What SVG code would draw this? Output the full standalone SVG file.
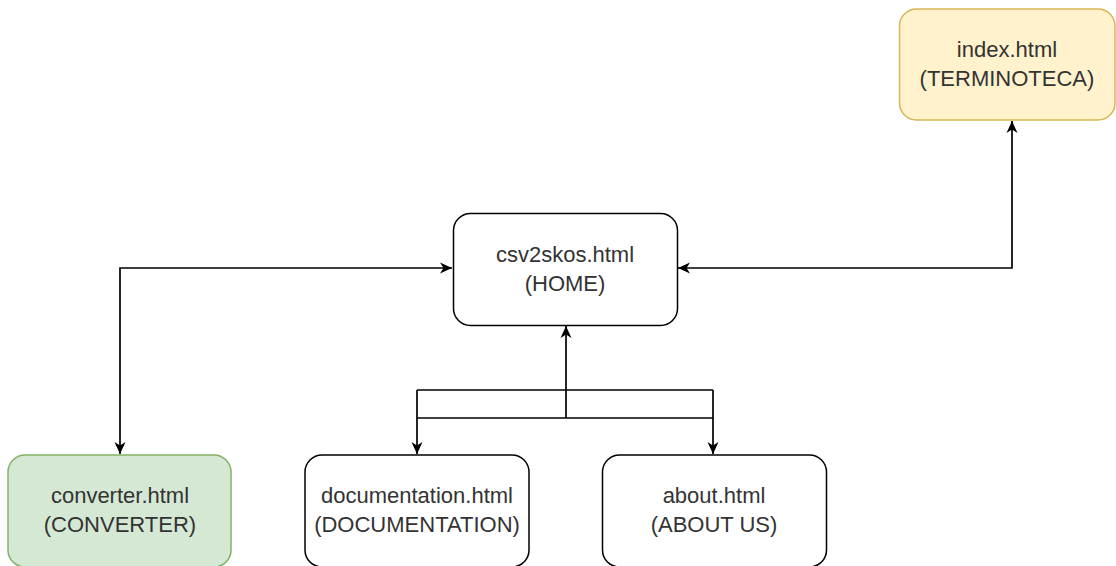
<svg xmlns="http://www.w3.org/2000/svg" width="1116" height="566" viewBox="0 0 1116 566">
  <style>
    .box { fill: #ffffff; stroke: #000000; stroke-width: 1.5; }
    .green { fill: #d5e8d4; stroke: #82b366; }
    .yellow { fill: #fff2cc; stroke: #d6b656; }
    .label { font-family: "Liberation Sans", Arial, sans-serif; font-size: 22px; fill: #333333; text-anchor: middle; }
    .edge { fill: none; stroke: #000000; stroke-width: 1.7; }
  </style>
  <defs>
    <marker id="arrow" viewBox="0 0 12 12" refX="12" refY="6" markerWidth="12" markerHeight="12" markerUnits="userSpaceOnUse" orient="auto-start-reverse">
      <path d="M0,0.5 L12,6 L0,11.5 L3.5,6 Z" fill="#000000"/>
    </marker>
  </defs>
  <rect width="1116" height="566" fill="#ffffff"/>

  <g id="connectors">
    <!-- converter <-> home -->
    <path class="edge" d="M120,454 L120,268 L452,268" marker-start="url(#arrow)" marker-end="url(#arrow)"/>
    <!-- home <-> index -->
    <path class="edge" d="M678,268 L1012,268 L1012,121" marker-start="url(#arrow)" marker-end="url(#arrow)"/>
    <!-- documentation / about -> home -->
    <path class="edge" d="M566,418 L566,326" marker-end="url(#arrow)"/>
    <path class="edge" d="M417,390 L713,390"/>
    <path class="edge" d="M417,418 L713,418"/>
    <path class="edge" d="M417,390 L417,454" marker-end="url(#arrow)"/>
    <path class="edge" d="M713,390 L713,454" marker-end="url(#arrow)"/>
  </g>

  <g id="index">
    <rect class="box yellow" x="899.5" y="9" width="215.5" height="111" rx="17"/>
    <text class="label" x="1007" y="57">index.html</text>
    <text class="label" x="1007" y="86">(TERMINOTECA)</text>
  </g>

  <g id="home">
    <rect class="box" x="453.5" y="213.5" width="224" height="112" rx="17"/>
    <text class="label" x="565" y="262">csv2skos.html</text>
    <text class="label" x="565" y="291">(HOME)</text>
  </g>

  <g id="converter">
    <rect class="box green" x="8" y="455" width="223" height="112" rx="17"/>
    <text class="label" x="120" y="503">converter.html</text>
    <text class="label" x="120" y="532">(CONVERTER)</text>
  </g>

  <g id="documentation">
    <rect class="box" x="305" y="455" width="224" height="112" rx="17"/>
    <text class="label" x="417" y="503">documentation.html</text>
    <text class="label" x="417" y="532">(DOCUMENTATION)</text>
  </g>

  <g id="about">
    <rect class="box" x="602.5" y="455" width="224" height="112" rx="17"/>
    <text class="label" x="714" y="503">about.html</text>
    <text class="label" x="714" y="532">(ABOUT US)</text>
  </g>
</svg>
